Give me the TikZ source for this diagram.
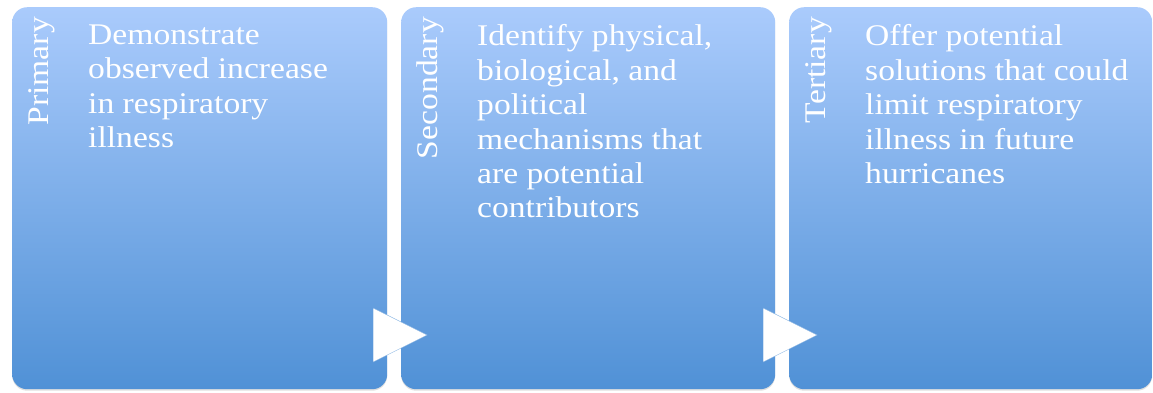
\documentclass[tikz,border=0pt]{standalone}
\usepackage{fontspec}
\setmainfont{Liberation Serif}[FakeStretch=1.12]
\usetikzlibrary{shapes.geometric,shadows}
\definecolor{boxtop}{RGB}{170,203,252}
\definecolor{boxbot}{RGB}{80,145,214}
\newcommand{\stagefont}{\fontsize{30}{34.4}\selectfont}
\tikzset{
  stagebox/.style={rounded corners=15pt, top color=boxtop, bottom color=boxbot,
    minimum height=382pt, inner sep=0pt, anchor=north west,
    drop shadow={shadow xshift=0pt, shadow yshift=-1.5pt, opacity=.25}},
  stagelabel/.style={rotate=90, anchor=base east, inner sep=0pt, text=white, font=\stagefont},
  stagetext/.style={anchor=north west, inner sep=0pt, align=left, text=white, font=\stagefont},
  stagearrow/.style={isosceles triangle, isosceles triangle stretches, minimum width=54pt,
    minimum height=54pt, inner sep=0pt, fill=white, draw=boxbot!70, anchor=lower side}
}
\begin{document}
\begin{tikzpicture}[x=1pt,y=-1pt]
  \useasboundingbox (0,0) rectangle (1153,392);
  % the three stages
  \node[stagebox, minimum width=375pt] (b1) at (12,7) {};
  \node[stagebox, minimum width=374pt] (b2) at (401,7) {};
  \node[stagebox, minimum width=363pt] (b3) at (789,7) {};
  % side labels
  \node[stagelabel] (l1) at (48,17) {Primary};
  \node[stagelabel] (l2) at (437,17) {Secondary};
  \node[stagelabel] (l3) at (825,17) {Tertiary};
  % texts
  \node[stagetext] (t1) at (88,24.5) {Demonstrate\\observed increase\\in respiratory\\illness};
  \node[stagetext] (t2) at (477,24.5) {Identify physical,\\biological, and\\political\\mechanisms that\\are potential\\contributors};
  \node[stagetext] (t3) at (865,24.5) {Offer potential\\solutions that could\\limit respiratory\\illness in future\\hurricanes};
  % arrows between stages
  \node[stagearrow] (a1) at (373,335) {};
  \node[stagearrow] (a2) at (763,335) {};
\end{tikzpicture}
\end{document}
